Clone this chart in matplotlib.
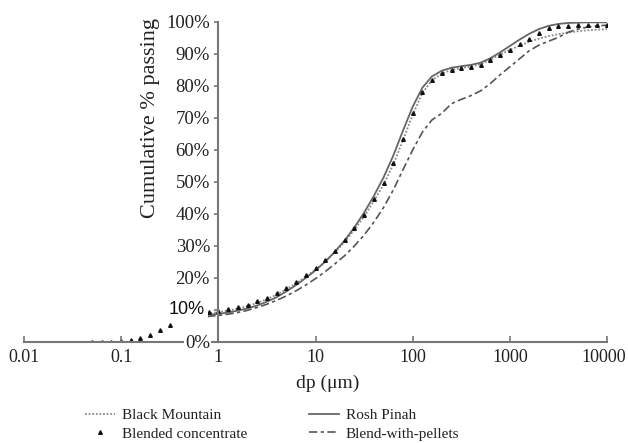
import numpy as np
import matplotlib
matplotlib.use("Agg")
import matplotlib.pyplot as plt
import matplotlib.transforms as mtransforms
from matplotlib.lines import Line2D

nan = np.nan
dp_um = [0.0501, 0.0631, 0.0794, 0.1, 0.126, 0.158, 0.2, 0.251, 0.316, 0.398,
         0.501, 0.631, 0.794, 1, 1.26, 1.58, 2, 2.51, 3.16, 3.98,
         5.01, 6.31, 7.94, 10, 12.6, 15.8, 20, 25.1, 31.6, 39.8,
         50.1, 63.1, 79.4, 100, 126, 158, 200, 251, 316, 398,
         501, 631, 794, 1000, 1260, 1580, 2000, 2510, 3160, 3980,
         5010, 6310, 7940, 10000]

blended = [0.0, 0.05, 0.1, 0.3, 0.7, 1.3, 2.3, 3.6, 5.2, 6.8,
           8.0, 8.9, 9.4, 9.8, 10.3, 10.9, 11.7, 12.7, 13.9, 15.3,
           17.0, 18.8, 20.8, 23.0, 25.5, 28.4, 31.8, 35.6, 39.8, 44.6,
           49.8, 56.0, 63.5, 71.5, 78.0, 82.0, 84.0, 85.0, 85.6, 86.0,
           86.6, 88.0, 89.6, 91.2, 93.0, 94.8, 96.6, 98.0, 98.6, 98.9,
           99.0, 99.1, 99.1, 99.2]

rosh_pinah = [nan, nan, nan, nan, nan, nan, nan, nan, nan, nan,
              7.6, 8.1, 8.5, 8.8, 9.2, 9.8, 10.5, 11.4, 12.6, 14.0,
              15.8, 17.8, 20.0, 22.4, 25.1, 28.2, 31.8, 35.8, 40.4, 45.6,
              51.4, 58.2, 66.0, 73.5, 79.5, 83.0, 84.8, 85.7, 86.2, 86.6,
              87.3, 88.7, 90.5, 92.5, 94.5, 96.3, 97.8, 98.8, 99.4, 99.7,
              99.8, 99.9, 99.9, 99.9]

black_mountain = [nan, nan, nan, nan, nan, nan, nan, nan, nan, nan,
                  7.8, 8.5, 9.0, 9.3, 9.8, 10.4, 11.2, 12.2, 13.4, 14.8,
                  16.5, 18.3, 20.4, 22.6, 25.1, 28.0, 31.3, 35.0, 39.2, 44.0,
                  49.2, 55.4, 63.0, 71.0, 77.8, 81.8, 83.9, 85.0, 85.6, 86.1,
                  86.8, 88.2, 89.8, 91.3, 92.6, 93.8, 94.8, 95.6, 96.2, 96.7,
                  97.1, 97.4, 97.6, 97.8]

pellets = [nan, nan, nan, nan, nan, nan, nan, nan, nan, nan,
           7.0, 7.6, 8.0, 8.3, 8.7, 9.2, 9.9, 10.8, 11.8, 13.0,
           14.4, 16.0, 17.8, 19.8, 22.0, 24.4, 27.0, 30.0, 33.4, 37.4,
           42.0, 47.5, 53.8, 60.0, 65.6, 69.4, 71.5, 74.5, 75.8, 77.0,
           78.5, 80.8, 83.5, 86.0, 88.5, 91.0, 92.8, 94.0, 95.2, 96.8,
           97.8, 98.4, 98.8, 99.0]

x_ticks = [0.01, 0.1, 1, 10, 100, 1000, 10000]
x_tick_labels = ["0.01", "0.1", "1", "10", "100", "1000", "10000"]
y_ticks = [0, 10, 20, 30, 40, 50, 60, 70, 80, 90, 100]
y_tick_labels = ["0%", "", "20%", "30%", "40%", "50%", "60%", "70%", "80%", "90%", "100%"]
special_label = "10%"
special_value = 10

plt.rcParams['font.family'] = ['Liberation Serif', 'DejaVu Serif']

fig = plt.figure(figsize=(6.28, 4.43), dpi=100)
ax = fig.add_axes([24/628, 1-342/443, 583/628, 320/443])

ax.plot(dp_um, black_mountain, color='#8a8a8a', lw=1.3, ls=(0, (1, 1)), zorder=2)
ax.plot(dp_um, rosh_pinah, color='#666666', lw=1.3, ls='-', zorder=2)
ax.plot(dp_um, pellets, color='#555555', lw=1.2, ls=(0, (5, 2, 2, 2)), zorder=2)
ax.plot(dp_um, blended, ls='none', marker='^', ms=2.6, color='#111111', zorder=2)

ax.set_xscale('log')
ax.set_xlim(0.01, 10000)
ax.set_ylim(0, 100)
ax.set_axisbelow(False)

ax.spines['top'].set_visible(False)
ax.spines['right'].set_visible(False)
ax.spines['left'].set_position(('data', 1))
for s in ('left', 'bottom'):
    ax.spines[s].set_color('#777777')
    ax.spines[s].set_linewidth(1.5)

ax.set_xticks(x_ticks, x_tick_labels)
ax.xaxis.set_minor_locator(matplotlib.ticker.NullLocator())
ax.set_yticks(y_ticks, y_tick_labels)
ax.tick_params(axis='x', direction='in', length=4, width=1.2, color='#777777',
               labelsize=13, pad=5, labelcolor='#222222')
ax.tick_params(axis='y', direction='out', length=3, width=1.2, color='#777777',
               labelsize=13.5, pad=3, labelcolor='#222222')

xt = ax.xaxis.get_major_ticks()
xt[-1].label1.set_transform(xt[-1].label1.get_transform() +
                            mtransforms.ScaledTranslation(-3/100, 0, fig.dpi_scale_trans))

for tick in ax.yaxis.get_major_ticks():
    tick.label1.set_bbox(dict(facecolor='white', edgecolor='none', pad=1))

# the sans-serif 10% label with its white box, drawn above the curves
ax.text(1, special_value, special_label,
        transform=ax.transData + mtransforms.ScaledTranslation(-14/100, 0, fig.dpi_scale_trans),
        ha='right', va='center', fontsize=13, color='#111111',
        family=['Liberation Sans', 'DejaVu Sans'], zorder=5, clip_on=False,
        bbox=dict(facecolor='white', edgecolor='none', pad=3.0))

ax.set_xlabel('dp (μm)', fontsize=14, color='#222222')
ax.xaxis.set_label_coords((328-24)/584, -33/320)
ax.set_ylabel('Cumulative % passing', fontsize=16, color='#222222')
ax.yaxis.set_label_coords((160-24)/584, (342-118)/320)

handles = [
    Line2D([], [], color='#8a8a8a', lw=1.3, ls=(0, (1, 1))),
    Line2D([], [], ls='none', marker='^', ms=2.6, color='#111111'),
    Line2D([], [], color='#666666', lw=1.3),
    Line2D([], [], color='#555555', lw=1.2, ls=(0, (5, 2, 2, 2))),
]
labels = ['Black Mountain', 'Blended concentrate', 'Rosh Pinah', 'Blend-with-pellets']
fig.legend(handles, labels, ncol=2, loc='upper left', bbox_to_anchor=(71/628, 1-395/443),
           frameon=False, fontsize=11, handlelength=2.0, handletextpad=0.45,
           columnspacing=4.0, labelspacing=0.3, borderpad=0.4, labelcolor='#222222')

fig.savefig('out.png', dpi=100)
